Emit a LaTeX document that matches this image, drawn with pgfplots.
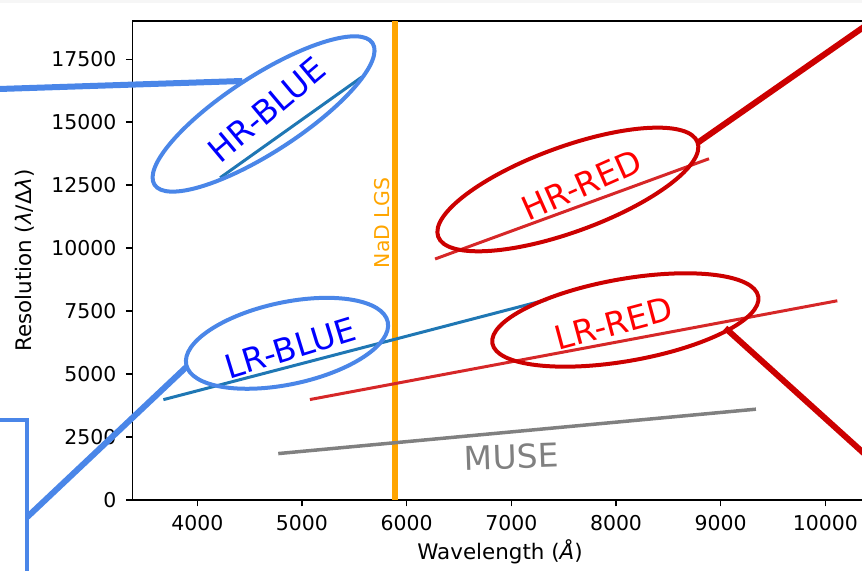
\documentclass[border=0pt]{standalone}
\usepackage{fontspec}
\setmainfont{DejaVu Sans}
\usepackage{pgfplots}
\pgfplotsset{compat=1.18}
\usetikzlibrary{shapes.geometric,calc}
\definecolor{annblue}{RGB}{74,134,232}
\definecolor{annred}{RGB}{204,0,0}
\definecolor{tabblue}{RGB}{31,119,180}
\definecolor{tabred}{RGB}{214,39,40}
\definecolor{nadorange}{RGB}{255,165,0}
\begin{document}
\begin{tikzpicture}
\begin{axis}[
  scale only axis, width=745.4bp, height=479bp,
  xmin=3379, xmax=10500, ymin=0, ymax=19020,
  clip=false,
  scaled ticks=false,
  axis line style={line width=1.5bp},
  xtick={4000,5000,...,10000}, ytick={0,2500,...,17500},
  tick align=outside, xtick pos=left, ytick pos=left,
  major tick length=6.5bp,
  tick style={line width=1.5bp, black},
  /pgf/number format/1000 sep={},
  /pgf/number format/assume math mode=true,
  tick label style={font=\fontsize{20.5}{24}\selectfont},
  yticklabel style={xshift=-6bp},
  xticklabel style={yshift=-5bp},
  label style={font=\fontsize{21.5}{26}\selectfont},
  xlabel={Wavelength (\textit{Å})},
  ylabel={Resolution (\textit{λ}/Δ\textit{λ})},
  x label style={at={(axis description cs:0.4933,-0.1086)}, anchor=center},
  y label style={at={(axis description cs:-0.144,0.5)}, anchor=center},
]
\coordinate (ll) at (rel axis cs:0,0);
% NaD LGS
\addplot[nadorange, line width=6bp, forget plot] coordinates {(5890,0) (5890,19020)};
% instrument ranges
\addplot[tabblue, line width=3bp, line cap=rect] coordinates {(4230,12830) (5560,16760)};
\addplot[tabblue, line width=3bp, line cap=rect] coordinates {(3690,4000) (7325,7940)};
\addplot[tabred, line width=3bp, line cap=rect] coordinates {(6285,9590) (8875,13530)};
\addplot[tabred, line width=3bp, line cap=rect] coordinates {(5090,4000) (10100,7900)};
\addplot[gray, line width=3.5bp, line cap=rect] coordinates {(4790,1850) (9320,3600)};
% connector lines
\addplot[annblue, line width=6bp] coordinates {(1927,16295) (4430,16638)};
\addplot[annblue, line width=6bp] coordinates {(2376,-675) (3895,5281)};
\addplot[annblue, line width=4bp] coordinates {(1900,3177) (2376,3177) (2376,-3500)};
\addplot[annred, line width=6bp] coordinates {(8777,14176) (11000,20617)};
\addplot[annred, line width=6bp] coordinates {(9044,6830) (11004,-536)};
% ellipses
\node[draw=annblue, line width=4bp, ellipse, minimum width=260bp, minimum height=76bp, inner sep=0pt, rotate=33] at (axis cs:4633,15328) {};
\node[draw=annred, line width=4bp, ellipse, minimum width=276bp, minimum height=85bp, inner sep=0pt, rotate=20] at (axis cs:7540,12330) {};
\node[draw=annblue, line width=4bp, ellipse, minimum width=206bp, minimum height=82bp, inner sep=0pt, rotate=12] at (axis cs:4857,6222) {};
\node[draw=annred, line width=4bp, ellipse, minimum width=270bp, minimum height=82bp, inner sep=0pt, rotate=10] at (axis cs:8089,7148) {};
% labels
\node[text=blue, font=\fontsize{33}{40}\selectfont, rotate=40] at (axis cs:4666,15487) {HR-BLUE};
\node[text=red, font=\fontsize{33}{40}\selectfont, rotate=24] at (axis cs:7675,12508) {HR-RED};
\node[text=blue, font=\fontsize{33}{40}\selectfont, rotate=17] at (axis cs:4888,6024) {LR-BLUE};
\node[text=red, font=\fontsize{33}{40}\selectfont, rotate=15] at (axis cs:7978,7016) {LR-RED};
\node[text=gray, font=\fontsize{33}{40}\selectfont, rotate=2] at (axis cs:7000,1720) {MUSE};
\node[text=nadorange, font=\fontsize{20.5}{24}\selectfont, rotate=90] at (axis cs:5767,11000) {NaD LGS};
\end{axis}
\fill[gray!7] ($(ll)+(-132.3bp,496.7bp)$) rectangle ($(ll)+(729.7bp,500bp)$);
\pgfresetboundingbox
\path[use as bounding box] ($(ll)+(-132.3bp,-71bp)$) rectangle ($(ll)+(729.7bp,500bp)$);
\end{tikzpicture}
\end{document}
